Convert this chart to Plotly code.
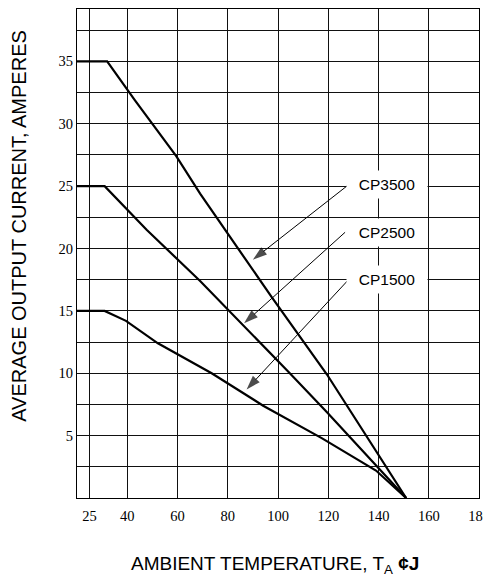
import plotly.graph_objects as go

# ---- data ----
temp_cp3500 = [20, 32, 43, 50, 59.5, 69, 97.5, 119.5, 151]
amp_cp3500 = [35, 35, 31.9, 30, 27.4, 24.4, 16.1, 9.9, 0]

temp_cp2500 = [20, 31, 47.7, 69, 104.7, 119.4, 151]
amp_cp2500 = [25, 25, 21.5, 17.4, 10.0, 6.9, 0]

temp_cp1500 = [20, 31, 39.5, 52.2, 73.6, 94.1, 117.4, 139, 151]
amp_cp1500 = [15, 15, 14.2, 12.4, 10.0, 7.4, 4.8, 2.2, 0]

series_names = ["CP3500", "CP2500", "CP1500"]
label_x = [143.4, 143.4, 143.4]
label_y = [25.15, 21.25, 17.55]
arrow_start_x = [128.0, 126.7, 127.6]
arrow_start_y = [25.1, 21.3, 17.4]
arrow_tip_x = [90.0, 86.5, 87.5]
arrow_tip_y = [19.1, 14.0, 8.7]

x_tickvals = [25, 40, 60, 80, 100, 120, 140, 160, 180]
y_tickvals = [5, 10, 15, 20, 25, 30, 35]
y_minor = [2.5, 7.5, 12.5, 17.5, 22.5, 27.5, 32.5, 37.5]

x_title = "AMBIENT TEMPERATURE, T<sub>A</sub> <b>¢J</b>"
y_title = "AVERAGE OUTPUT CURRENT, AMPERES"

SANS = "Liberation Sans, Arial, sans-serif"
SERIF = "Liberation Serif, Times New Roman, serif"

fig = go.Figure()
for xs, ys in [(temp_cp3500, amp_cp3500), (temp_cp2500, amp_cp2500), (temp_cp1500, amp_cp1500)]:
    fig.add_trace(go.Scatter(x=xs, y=ys, mode="lines",
                             line=dict(color="black", width=2.2),
                             showlegend=False, hoverinfo="skip"))

for i in range(len(series_names)):
    fig.add_trace(go.Scatter(
        x=[arrow_start_x[i], arrow_tip_x[i]], y=[arrow_start_y[i], arrow_tip_y[i]],
        mode="lines+markers",
        line=dict(color="black", width=1),
        marker=dict(symbol=["circle", "arrow"], size=[0, 15], color="black",
                    angleref="previous", line=dict(width=0)),
        showlegend=False, hoverinfo="skip"))

annotations = []
for i, name in enumerate(series_names):
    annotations.append(dict(
        x=label_x[i], y=label_y[i], xref="x", yref="y",
        text=name, showarrow=False, xanchor="center", yanchor="middle",
        width=80, height=27, bgcolor="white", borderpad=0,
        font=dict(family=SANS, size=15.5, color="black")))

annotations.append(dict(
    x=-0.144, y=0.557, xref="paper", yref="paper", text=y_title,
    textangle=-90, showarrow=False, xanchor="center", yanchor="middle",
    font=dict(family=SANS, size=20, color="black")))
annotations.append(dict(
    x=0.492, y=-0.136, xref="paper", yref="paper", text=x_title,
    showarrow=False, xanchor="center", yanchor="middle",
    font=dict(family=SANS, size=19, color="black")))

# the page body adds an 8 px margin, so the figure is 8 px smaller and margins shifted
fig.update_layout(
    width=483, height=569,
    margin=dict(l=69, r=12, t=1, b=78.5, pad=0),
    paper_bgcolor="white", plot_bgcolor="white",
    annotations=annotations,
    showlegend=False,
)
fig.update_xaxes(
    range=[20, 180], tickmode="array", tickvals=x_tickvals,
    showgrid=True, gridcolor="#111111", gridwidth=1,
    showline=True, mirror=True, linecolor="black", linewidth=1.3,
    ticks="", zeroline=False, ticklabelstandoff=4,
    tickfont=dict(family=SERIF, size=14.5, color="black"),
)
fig.update_yaxes(
    range=[0, 39.2], tickmode="array", tickvals=y_tickvals,
    showgrid=True, gridcolor="#111111", gridwidth=1,
    minor=dict(tickmode="array", tickvals=y_minor, showgrid=True,
               gridcolor="#111111", gridwidth=1, ticks=""),
    showline=True, mirror=True, linecolor="black", linewidth=1.3,
    ticks="", zeroline=False,
    tickfont=dict(family=SERIF, size=14.5, color="black"),
)

fig.write_html("out.html")
